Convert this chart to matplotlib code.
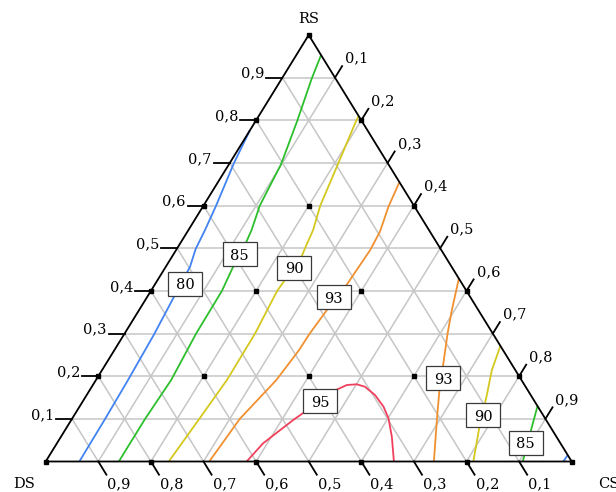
import matplotlib
matplotlib.use("Agg")
import numpy as np
import matplotlib.pyplot as plt
from matplotlib.patches import Rectangle, Polygon

# Mixture contours, each branch given as (CS, RS) fractions; DS = 1 - CS - RS
c80_a_cs = [0.064, 0.063, 0.061, 0.057, 0.050, 0.046, 0.036, 0.0315, 0.024, 0.008, 0.004, 0.0]
c80_a_rs = [0.0, 0.100, 0.191, 0.298, 0.398, 0.457, 0.498, 0.543, 0.600, 0.700, 0.738, 0.776]
c80_b_cs = [0.984, 0.985]
c80_b_rs = [0.0, 0.015]

c85_a_cs = [0.139, 0.139, 0.143, 0.136, 0.135, 0.128, 0.124, 0.120, 0.107, 0.099, 0.079, 0.057, 0.047]
c85_a_rs = [0.0, 0.100, 0.191, 0.300, 0.400, 0.457, 0.515, 0.543, 0.600, 0.697, 0.798, 0.897, 0.953]
c85_b_cs = [0.907, 0.888, 0.870]
c85_b_rs = [0.0, 0.066, 0.130]

c90_a_cs = [0.234, 0.242, 0.249, 0.248, 0.240, 0.242, 0.246, 0.243, 0.237, 0.222, 0.207, 0.191, 0.190]
c90_a_rs = [0.0, 0.100, 0.191, 0.300, 0.400, 0.426, 0.482, 0.500, 0.543, 0.600, 0.697, 0.798, 0.810]
c90_b_cs = [0.813, 0.781, 0.762, 0.741, 0.729]
c90_b_rs = [0.0, 0.0896, 0.152, 0.2145, 0.271]

c93_a_cs = [0.311, 0.319, 0.343, 0.351, 0.352, 0.357, 0.365, 0.369, 0.366, 0.353, 0.345]
c93_a_rs = [0.0, 0.100, 0.191, 0.261, 0.300, 0.355, 0.414, 0.496, 0.539, 0.597, 0.655]
c93_b_cs = [0.571, 0.595, 0.614, 0.641, 0.668, 0.695, 0.738]
c93_b_rs = [0.429, 0.354, 0.300, 0.230, 0.160, 0.0973, 0.0]

c95_cs = [0.382, 0.392, 0.409, 0.422, 0.433, 0.470, 0.483, 0.501, 0.519, 0.548,
          0.578, 0.601, 0.629, 0.662]
c95_rs = [0.0, 0.0427, 0.0739, 0.0973, 0.1144, 0.1693, 0.1794, 0.181, 0.1754, 0.156,
          0.1285, 0.1013, 0.0581, 0.0]

# Inline contour labels: text, CS, RS
label_text = ["80", "85", "90", "93", "95", "93", "90", "85"]
label_cs = [0.057, 0.126, 0.2456, 0.355, 0.4517, 0.6584, 0.7778, 0.8905]
label_rs = [0.4167, 0.486, 0.4537, 0.385, 0.1407, 0.195, 0.109, 0.0434]

tick_values = [0.1, 0.2, 0.3, 0.4, 0.5, 0.6, 0.7, 0.8, 0.9]
tick_labels = ["0,1", "0,2", "0,3", "0,4", "0,5", "0,6", "0,7", "0,8", "0,9"]
vertex_labels = ["DS", "CS", "RS"]

col = {80: "#4283f2", 85: "#2cbf2c", 90: "#d4c81e", 93: "#f09030", 95: "#f0405c"}
branches = [
    (80, c80_a_cs, c80_a_rs), (80, c80_b_cs, c80_b_rs),
    (85, c85_a_cs, c85_a_rs), (85, c85_b_cs, c85_b_rs),
    (90, c90_a_cs, c90_a_rs), (90, c90_b_cs, c90_b_rs),
    (93, c93_a_cs, c93_a_rs), (93, c93_b_cs, c93_b_rs),
    (95, c95_cs, c95_rs),
]

FONT = "DejaVu Serif"
FS = 10.5

fig = plt.figure(figsize=(6.16, 4.92), dpi=100)
W_PX, H_PX = 526.0, 426.5
ax = fig.add_axes([45.7 / 616, (492 - 461.5) / 492, W_PX / 616, H_PX / 492])
ax.set_xlim(0, 1)
ax.set_ylim(0, 1)
ax.axis("off")
PX, PY = 1 / W_PX, 1 / H_PX


def tern(cs, rs):
    cs = np.asarray(cs, float)
    rs = np.asarray(rs, float)
    return cs + rs / 2, rs


# grid
grid_kw = dict(color="#c6c6c6", lw=1.1, zorder=1, clip_on=False)
for v in tick_values:
    ax.plot(*tern([0, 1 - v], [v, v]), **grid_kw)
    ax.plot(*tern([v, v], [0, 1 - v]), **grid_kw)
    ax.plot(*tern([1 - v, 0], [0, 1 - v]), **grid_kw)

# frame
ax.add_patch(Polygon([(0, 0), (1, 0), (0.5, 1)], closed=True, fill=False,
                     ec="black", lw=1.3, zorder=4, clip_on=False))

# node markers at multiples of 0.2
mx, my = [], []
for i in range(6):
    for j in range(6 - i):
        x, y = tern(i * 0.2, j * 0.2)
        mx.append(float(x))
        my.append(float(y))
ax.plot(mx, my, "ks", ms=3.0, zorder=6, clip_on=False)

# contours
for lev, cs, rs in branches:
    x, y = tern(cs, rs)
    ax.plot(x, y, color=col[lev], lw=1.3, zorder=3, clip_on=False,
            solid_capstyle="butt", solid_joinstyle="round")

# contour labels
bw, bh = 34 * PX, 24 * PY
for t, cs, rs in zip(label_text, label_cs, label_rs):
    x, y = tern(cs, rs)
    ax.add_patch(Rectangle((x - bw / 2, y - bh / 2), bw, bh, fc="white",
                           ec="#3a3a3a", lw=0.9, zorder=7, clip_on=False))
    ax.text(x, y - 5.5 * PY, t, ha="center", va="baseline", family=FONT,
            fontsize=FS, zorder=8)

tick_kw = dict(color="black", lw=1.3, zorder=4, clip_on=False)
# left axis: RS
for v, lab in zip(tick_values, tick_labels):
    x, y = tern(0, v)
    ax.plot([x, x - 16 * PX], [y, y], **tick_kw)
    ax.text(x - 18 * PX, y, lab, ha="right", va="baseline", family=FONT, fontsize=FS)

# right axis: CS
ux, uy = 7.1, 11.5
for v, lab in zip(tick_values, tick_labels):
    x, y = tern(v, 1 - v)
    ex, ey = x + ux * PX, y + uy * PY
    ax.plot([x, ex], [y, ey], **tick_kw)
    ax.text(ex + 3 * PX, ey + 3.5 * PY, lab, ha="left", va="baseline",
            family=FONT, fontsize=FS)

# bottom axis: DS
dx, dy = 8.1, -13.2
for v, lab in zip(tick_values, tick_labels):
    x, y = tern(1 - v, 0)
    ex, ey = x + dx * PX, y + dy * PY
    ax.plot([x, ex], [y, ey], **tick_kw)
    ax.text(ex + 1 * PX, ey - 14 * PY, lab, ha="left", va="baseline",
            family=FONT, fontsize=FS)

# vertex names
ax.text((24 - 45.7) * PX, -26 * PY, vertex_labels[0], ha="center", va="baseline",
        family=FONT, fontsize=FS)
ax.text(1 + 26.6 * PX, -26 * PY, vertex_labels[1], ha="left", va="baseline",
        family=FONT, fontsize=FS)
ax.text(0.5 - 0.4 * PX, 1 + 11.7 * PY, vertex_labels[2], ha="center", va="baseline",
        family=FONT, fontsize=FS)

fig.savefig("out.png", dpi=100)
